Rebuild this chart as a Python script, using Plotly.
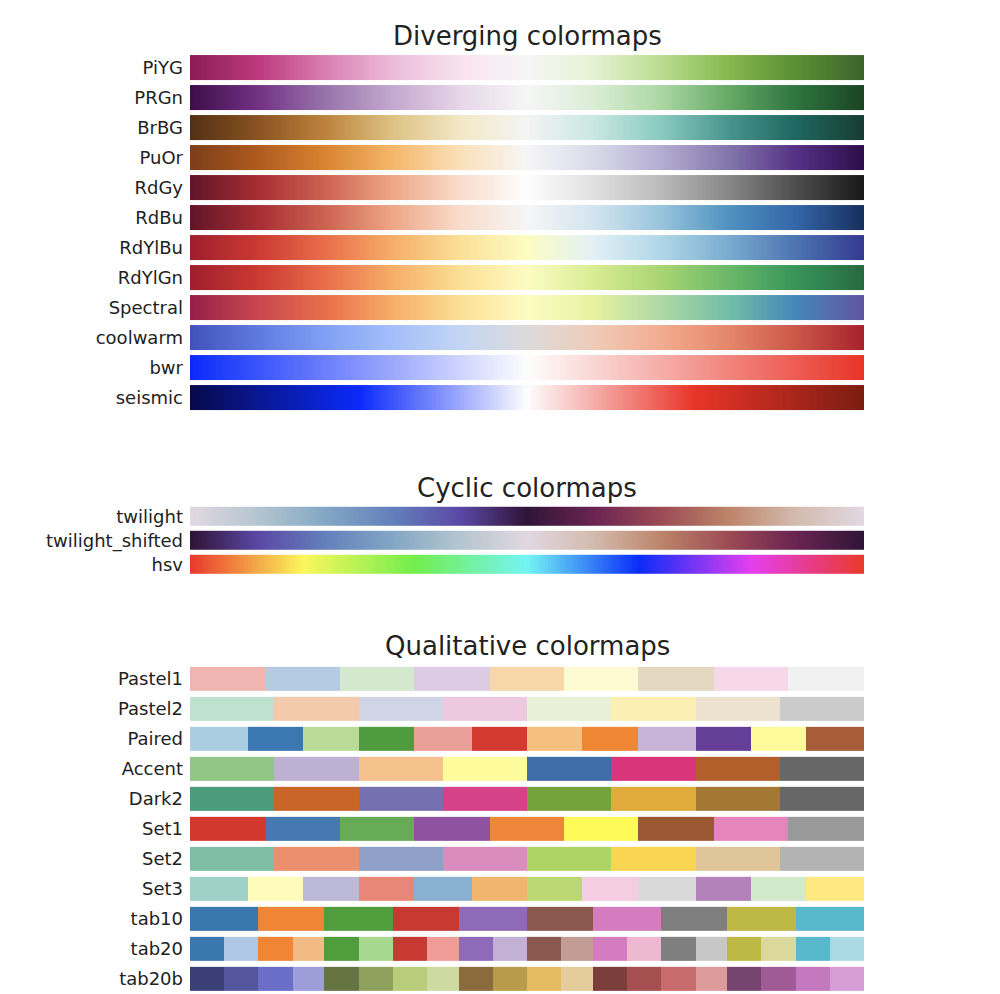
import numpy as np
import plotly.graph_objects as go

# the ramp every colormap is drawn over (same as the matplotlib reference script)
gradient = np.linspace(0, 1, 256)

# ---- diverging colormaps (stops evenly spaced) ----
diverging_names = ['PiYG', 'PRGn', 'BrBG', 'PuOr', 'RdGy', 'RdBu',
                   'RdYlBu', 'RdYlGn', 'Spectral', 'coolwarm', 'bwr', 'seismic']
PiYG = ['#8a1d55', '#bd3a80', '#d97fb0', '#ecbcda', '#f9e2ef', '#f6f6f6',
        '#e5f2d3', '#badc8f', '#85b84e', '#5a8f35', '#3b652b']
PRGn = ['#3e0e4b', '#733284', '#9874ab', '#c3a8cf', '#e6d6e8', '#f6f6f6',
        '#dbedd5', '#abd7a3', '#66aa67', '#2f753f', '#1b4524']
BrBG = ['#533114', '#8a5322', '#bd833d', '#ddc283', '#f3e7c6', '#f4f4f4',
        '#c9e7e2', '#89cac0', '#48958d', '#1f6760', '#173d33']
PuOr = ['#7d3e19', '#ae5b1f', '#d98431', '#f5b76a', '#fbe0b9', '#f6f6f6',
        '#d9dae9', '#b4add1', '#8277ab', '#563186', '#2e0e4b']
RdGy = ['#621527', '#a72e34', '#cd6352', '#eea788', '#f9dccb', '#fefefe',
        '#e0e0e0', '#bababa', '#878787', '#4d4d4d', '#1a1a1a']
RdBu = ['#621527', '#a72e34', '#cd6352', '#eea788', '#f9dccb', '#f6f6f6',
        '#d3e4ef', '#98c4dc', '#5092c0', '#3466a8', '#17305d']
RdYlBu = ['#9f1f2d', '#cc3a31', '#e96e4b', '#f6ae68', '#fbdf97', '#fdfcc3',
          '#e2f0f6', '#afd7e7', '#7aacd0', '#4c74b1', '#353b91']
RdYlGn = ['#9f1f2d', '#cc3a31', '#e96e4b', '#f6ae68', '#fbdf93', '#fdfcc3',
          '#d9ec93', '#a9d573', '#6bb869', '#37955a', '#276a40']
Spectral = ['#952048', '#c9474f', '#e96e4b', '#f6ae68', '#fbdf93', '#fdfcc3',
            '#e6f2a1', '#aed9a6', '#72bea6', '#4587ba', '#5f55a0']
coolwarm = ['#4152bd', '#5f7ae0', '#81a0f5', '#a3bffb', '#c3d5f3', '#dcdbdb',
            '#efcbb8', '#f2ac90', '#e5876b', '#cc5749', '#a8232c']
bwr = ['#0a2afa', '#fefefe', '#e93428']
seismic = ['#080a4b', '#0a2afa', '#fefefe', '#e93428', '#7c1c12']

# ---- cyclic colormaps ----
cyclic_names = ['twilight', 'twilight_shifted', 'hsv']
twilight = ['#e1d8e1', '#b4c5cf', '#82a7c5', '#6380bb', '#5b48a6', '#301437',
            '#6a2452', '#9c4b55', '#bc8469', '#d3baae', '#e1d8e1']
twilight_shifted = ['#301437', '#5b48a6', '#6380bb', '#82a7c5', '#b4c5cf', '#e1d8e1',
                    '#d3baae', '#bc8469', '#9c4b55', '#6a2452', '#301437']
hsv = ['#e93a2d', '#fbf75c', '#72ee4e', '#74f4f4', '#0a2cf9', '#e43ff0', '#e93a2d']

# ---- qualitative colormaps (discrete blocks) ----
qualitative_names = ['Pastel1', 'Pastel2', 'Paired', 'Accent', 'Dark2', 'Set1',
                     'Set2', 'Set3', 'tab10', 'tab20', 'tab20b']
Pastel1 = ['#f0b5b0', '#b5cbe3', '#d3e8cd', '#dccbe2', '#f7d7a8', '#fefbd2',
           '#e4d8c2', '#f6d8ea', '#f1f1f1']
Pastel2 = ['#bde2d0', '#f3cbac', '#cfd5e6', '#ecc9df', '#e8f1d7', '#fbefb4',
           '#ede1cf', '#cbcbcb']
Paired = ['#abcde2', '#3b77b0', '#bbdc98', '#4f9c3f', '#eb9f99', '#d43a30',
          '#f4bf7f', '#ef8735', '#c7b3d5', '#653f97', '#fdfa9c', '#a75d37']
Accent = ['#92c686', '#bdb0d3', '#f5c28e', '#fdfb9c', '#3f6eaa', '#da357b',
          '#b35f2b', '#676767']
Dark2 = ['#4a9c7c', '#cb6428', '#7571b0', '#d6418a', '#75a23a', '#e0ab3a',
         '#a27833', '#676767']
Set1 = ['#d3382e', '#4679b1', '#68ab57', '#8e52a0', '#f0863a', '#fefa58',
        '#9c5733', '#e685bd', '#999999']
Set2 = ['#7fbea6', '#eb8f6c', '#909fc8', '#da8cbf', '#afd466', '#fad552',
        '#e0c59b', '#b3b3b3']
Set3 = ['#9ed1c8', '#fefbbb', '#bcb9d7', '#e88677', '#89b0d0', '#f1b56d',
        '#bcd873', '#f5cde2', '#d9d9d9', '#b482ba', '#d1e8c9', '#fde97f']
tab10 = ['#3a77ae', '#ef8535', '#4f9d3c', '#c63a33', '#8e6ab8', '#8b5850',
         '#d47cbf', '#7f7f7f', '#bdb944', '#58b9cd']
tab20 = ['#3a77ae', '#b0c6e5', '#ef8535', '#f3bb84', '#4f9d3c', '#a6d98f',
         '#c63a33', '#ef9c98', '#8e6ab8', '#c2b1d4', '#8b5850', '#c19d95',
         '#d47cbf', '#efb8d1', '#7f7f7f', '#c7c7c7', '#bdb944', '#dad89a',
         '#58b9cd', '#aad8e3']
tab20b = ['#3b3f78', '#54569d', '#6b6ec6', '#9c9dd9', '#667443', '#8ea25d',
          '#b8cc79', '#cfdaa2', '#8a6b3c', '#b99b4c', '#e4bb61', '#e4cc9b',
          '#7c3e3c', '#a54f50', '#c76b6c', '#dd9b9c', '#76456f', '#a05a96',
          '#c478be', '#d69dd4']

diverging_maps = [PiYG, PRGn, BrBG, PuOr, RdGy, RdBu, RdYlBu, RdYlGn,
                  Spectral, coolwarm, bwr, seismic]
cyclic_maps = [twilight, twilight_shifted, hsv]
qualitative_maps = [Pastel1, Pastel2, Paired, Accent, Dark2, Set1, Set2, Set3,
                    tab10, tab20, tab20b]

W, H = 1000, 994
OFF = 8  # page body margin in the browser
FONT = 'DejaVu Sans'


def smooth_scale(colors):
    n = len(colors) - 1
    return [[k / n, c] for k, c in enumerate(colors)]


def step_scale(colors):
    n = len(colors)
    scale = []
    for k, c in enumerate(colors):
        scale.append([k / n, c])
        scale.append([(k + 1) / n, c])
    return scale


def px_x(px):
    return (px - OFF) / W


def px_y(py):
    return 1 - (py - OFF) / H


# (title, names, maps, discrete, domain top/bottom px, bar fraction, title y px)
sections = [
    ('Diverging colormaps', diverging_names, diverging_maps, False, 52.5, 412.5, 0.83, 36),
    ('Cyclic colormaps', cyclic_names, cyclic_maps, False, 504.5, 576.5, 0.81, 488),
    ('Qualitative colormaps', qualitative_names, qualitative_maps, True, 663.7, 993.7, 0.79, 646),
]

fig = go.Figure()
layout = dict(width=W, height=H, margin=dict(l=0, r=0, t=0, b=0),
              plot_bgcolor='white', paper_bgcolor='white',
              font=dict(family=FONT, color='#222222'), showlegend=False,
              annotations=[])

for s, (title, names, maps, discrete, top, bottom, frac, ty) in enumerate(sections):
    ax = '' if s == 0 else str(s + 1)
    for i, cmap in enumerate(maps):
        scale = step_scale(cmap) if discrete else smooth_scale(cmap)
        fig.add_trace(go.Heatmap(
            z=[gradient], x0=0, dx=1,
            y=[i - frac / 2, i + frac / 2],
            colorscale=scale, zmin=0, zmax=1, showscale=False,
            hoverinfo='skip', xaxis='x' + ax, yaxis='y' + ax))
    layout['xaxis' + ax] = dict(domain=[px_x(190), px_x(864)], range=[-0.5, 255.5],
                                visible=False, anchor='y' + ax)
    layout['yaxis' + ax] = dict(domain=[px_y(bottom), px_y(top)],
                                range=[len(names) - 0.5, -0.5],
                                tickvals=list(range(len(names))), ticktext=names,
                                tickfont=dict(size=18, family=FONT, color='#222222'),
                                showgrid=False, zeroline=False, showline=False,
                                ticks='', ticklabelstandoff=6, anchor='x' + ax)
    layout['annotations'].append(dict(
        text=title, x=px_x(527), y=px_y(ty), xref='paper', yref='paper',
        xanchor='center', yanchor='middle', showarrow=False,
        font=dict(size=26, family=FONT, color='#222222')))

fig.update_layout(**layout)
fig.write_html("out.html")
